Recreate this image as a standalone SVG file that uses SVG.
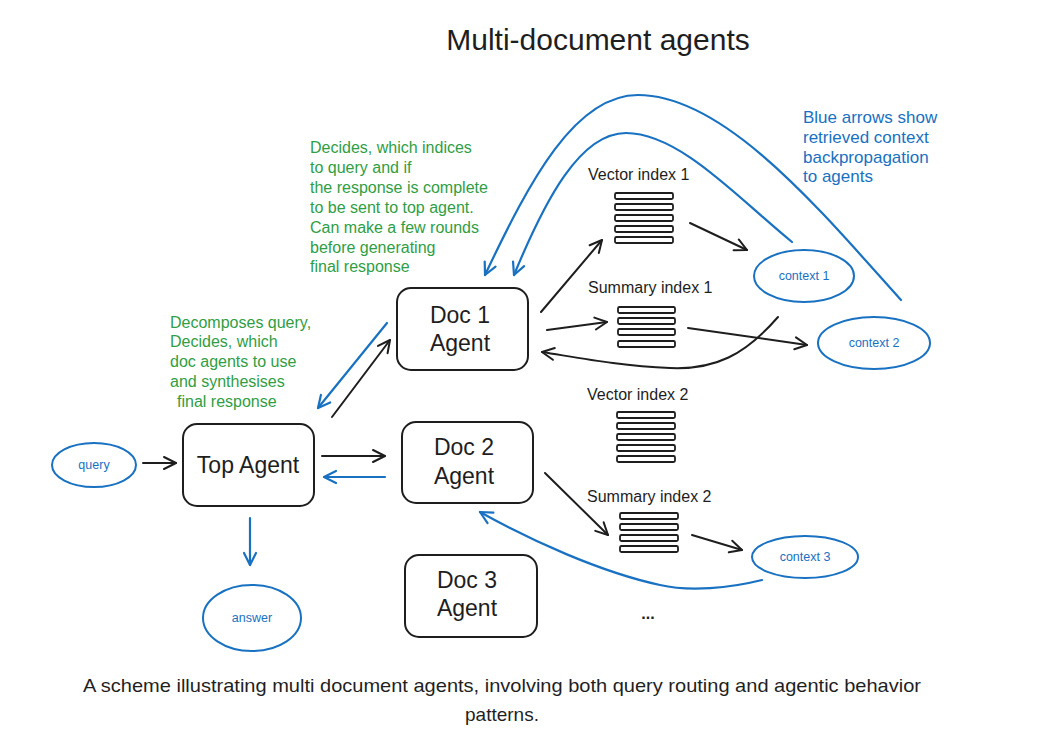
<svg xmlns="http://www.w3.org/2000/svg" width="1039" height="731" viewBox="0 0 1039 731">
<style>
.box{fill:#fff;stroke:#1e1e1e;stroke-width:2}
.ell{fill:none;stroke:#1971c2;stroke-width:2}
.bar{fill:#fff;stroke:#1e1e1e;stroke-width:1.8}
.blk{fill:none;stroke:#1e1e1e;stroke-width:2;stroke-linecap:round}
.blu{fill:none;stroke:#1971c2;stroke-width:2.2;stroke-linecap:round}
.hand{font-family:"Liberation Sans",Arial,sans-serif}
.nt{font-size:23px;fill:#1e1e1e;text-anchor:middle}
.lbl{font-size:16px;fill:#1e1e1e}
.ct{font-size:12.5px;fill:#1971c2;text-anchor:middle}
.gr{font-size:16px;fill:#2f9e44}
.bt{font-size:17px;fill:#1971c2}
.cap{font-family:"Liberation Sans",Arial,sans-serif;font-size:19px;fill:#1f1f1f;text-anchor:middle}
</style>
<defs>
<marker id="ah" viewBox="0 0 16 16" refX="14" refY="8" markerWidth="16" markerHeight="16" markerUnits="userSpaceOnUse" orient="auto"><path d="M2,2 L14,8 L2,14" fill="none" stroke="#1e1e1e" stroke-width="2" stroke-linecap="round" stroke-linejoin="round"/></marker>
<marker id="ab" viewBox="0 0 16 16" refX="14" refY="8" markerWidth="16" markerHeight="16" markerUnits="userSpaceOnUse" orient="auto"><path d="M2,2 L14,8 L2,14" fill="none" stroke="#1971c2" stroke-width="2.2" stroke-linecap="round" stroke-linejoin="round"/></marker>
</defs>
<rect width="1039" height="731" fill="#fff"/>

<text class="hand" x="598" y="50" font-size="30" fill="#1e1e1e" text-anchor="middle">Multi-document agents</text>

<g id="connectors">
<path class="blk" marker-end="url(#ah)" d="M143,463 L176,463"/>
<path class="blk" marker-end="url(#ah)" d="M322,456 L385,456"/>
<path class="blu" marker-end="url(#ab)" d="M385,477 L324,477"/>
<path class="blu" marker-end="url(#ab)" d="M250,518 L250,565"/>
<path class="blu" marker-end="url(#ab)" d="M387,323 L318,408"/>
<path class="blk" marker-end="url(#ah)" d="M332,417 L390,340"/>
<path class="blk" marker-end="url(#ah)" d="M541,312 L602,240"/>
<path class="blk" marker-end="url(#ah)" d="M547,330 L607,322"/>
<path class="blk" marker-end="url(#ah)" d="M690,223 L747,250"/>
<path class="blk" marker-end="url(#ah)" d="M688,328 L807,345"/>
<path class="blk" marker-end="url(#ah)" d="M778,317 C745,355 715,370 670,368 C620,366 580,358 542,352"/>
<path class="blk" marker-end="url(#ah)" d="M545,473 L608,535"/>
<path class="blk" marker-end="url(#ah)" d="M692,535 L742,550"/>
<path class="blu" marker-end="url(#ab)" d="M762,580 C730,588 690,592 660,585 C600,572 530,540 480,512"/>
<path class="blu" marker-end="url(#ab)" d="M901,300 C820,210 725,95 638,95 C575,95 530,180 485,275"/>
<path class="blu" marker-end="url(#ab)" d="M792,242 C740,200 680,133 626,133 C580,133 545,200 514,275"/>
</g>

<g id="query"><ellipse class="ell" cx="94" cy="465" rx="42" ry="22"/><text class="hand ct" x="94" y="469" font-size="13">query</text></g>
<g id="top-agent"><rect class="box" x="183" y="424" width="131" height="82" rx="14"/><text class="hand nt" x="248" y="473">Top Agent</text></g>
<g id="answer"><ellipse class="ell" cx="252" cy="618" rx="49" ry="33"/><text class="hand ct" x="252" y="622" font-size="13">answer</text></g>

<g id="doc1-agent"><rect class="box" x="397" y="288" width="131" height="82" rx="14"/><text class="hand nt" x="460" y="323">Doc 1</text><text class="hand nt" x="460" y="351">Agent</text></g>
<g id="doc2-agent"><rect class="box" x="402" y="422" width="131" height="81" rx="14"/><text class="hand nt" x="464" y="455">Doc 2</text><text class="hand nt" x="464" y="484">Agent</text></g>
<g id="doc3-agent"><rect class="box" x="405" y="555" width="132" height="82" rx="14"/><text class="hand nt" x="467" y="588">Doc 3</text><text class="hand nt" x="467" y="616">Agent</text></g>

<g id="vector-index-1"><text class="hand lbl" x="588" y="180">Vector index 1</text>
<rect class="bar" x="615" y="193" width="58" height="6" rx="1.5"/><rect class="bar" x="615" y="204" width="58" height="6" rx="1.5"/><rect class="bar" x="615" y="215" width="58" height="6" rx="1.5"/><rect class="bar" x="615" y="226" width="58" height="6" rx="1.5"/><rect class="bar" x="615" y="237" width="58" height="6" rx="1.5"/></g>
<g id="summary-index-1"><text class="hand lbl" x="588" y="293">Summary index 1</text>
<rect class="bar" x="618" y="307" width="57" height="6" rx="1.5"/><rect class="bar" x="618" y="318" width="57" height="6" rx="1.5"/><rect class="bar" x="618" y="329" width="57" height="6" rx="1.5"/><rect class="bar" x="618" y="341" width="57" height="6" rx="1.5"/></g>
<g id="vector-index-2"><text class="hand lbl" x="587" y="400">Vector index 2</text>
<rect class="bar" x="617" y="412" width="58" height="6" rx="1.5"/><rect class="bar" x="617" y="423" width="58" height="6" rx="1.5"/><rect class="bar" x="617" y="434" width="58" height="6" rx="1.5"/><rect class="bar" x="617" y="445" width="58" height="6" rx="1.5"/><rect class="bar" x="617" y="456" width="58" height="6" rx="1.5"/></g>
<g id="summary-index-2"><text class="hand lbl" x="587" y="502">Summary index 2</text>
<rect class="bar" x="620" y="513" width="58" height="6" rx="1.5"/><rect class="bar" x="620" y="524" width="58" height="6" rx="1.5"/><rect class="bar" x="620" y="535" width="58" height="6" rx="1.5"/><rect class="bar" x="620" y="546" width="58" height="6" rx="1.5"/></g>

<g id="context-1"><ellipse class="ell" cx="804" cy="276" rx="50" ry="26"/><text class="hand ct" x="804" y="280">context 1</text></g>
<g id="context-2"><ellipse class="ell" cx="874" cy="343" rx="56" ry="26"/><text class="hand ct" x="874" y="347">context 2</text></g>
<g id="context-3"><ellipse class="ell" cx="805" cy="557" rx="53" ry="21"/><text class="hand ct" x="805" y="561">context 3</text></g>

<g id="more"><text class="hand" x="648" y="619" font-size="16" font-weight="bold" fill="#1e1e1e" text-anchor="middle">...</text></g>

<g id="note-doc-agent" class="hand gr">
<text x="310" y="153">Decides, which indices</text>
<text x="310" y="173">to query and if</text>
<text x="310" y="193">the response is complete</text>
<text x="310" y="213">to be sent to top agent.</text>
<text x="310" y="233">Can make a few rounds</text>
<text x="310" y="253">before generating</text>
<text x="310" y="272">final response</text>
</g>
<g id="note-top-agent" class="hand gr">
<text x="170" y="328">Decomposes query,</text>
<text x="170" y="347">Decides, which</text>
<text x="170" y="367">doc agents to use</text>
<text x="170" y="387">and synthesises</text>
<text x="177" y="407">final response</text>
</g>
<g id="note-blue" class="hand bt">
<text x="803" y="123">Blue arrows show</text>
<text x="803" y="143">retrieved context</text>
<text x="803" y="163">backpropagation</text>
<text x="803" y="182">to agents</text>
</g>

<g id="caption">
<text class="cap" x="502" y="692" textLength="838" lengthAdjust="spacingAndGlyphs">A scheme illustrating multi document agents, involving both query routing and agentic behavior</text>
<text class="cap" x="502" y="721">patterns.</text>
</g>
</svg>
